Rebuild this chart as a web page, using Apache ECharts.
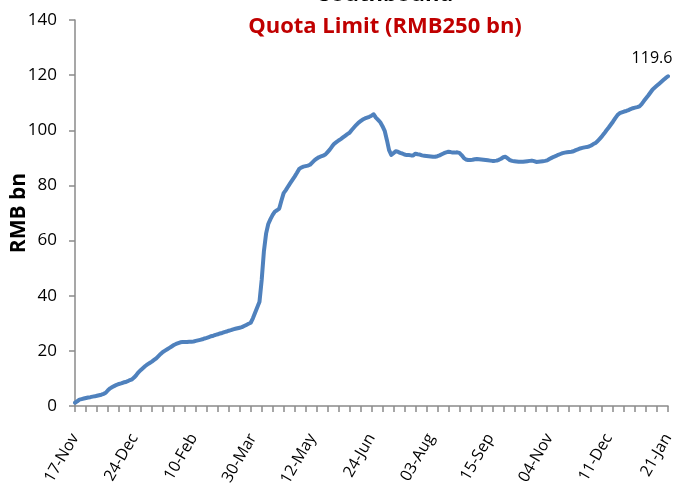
<!DOCTYPE html>
<html>
<head>
<meta charset="utf-8">
<script src="https://cdn.jsdelivr.net/npm/echarts@6/dist/echarts.min.js"></script>
<style>
html,body{margin:0;padding:0;background:#fff;}
#c{width:685px;height:486px;}
</style>
</head>
<body>
<div id="c"></div>
<script>
// Tick labels shown every 27 trading days
const tickLabels = ['17-Nov','24-Dec','10-Feb','30-Mar','12-May','24-Jun','03-Aug','15-Sep','04-Nov','11-Dec','21-Jan'];
const labelStep = 27;
const tickStep = 5;
// Cumulative southbound usage, RMB bn
const values = [
1.2,1.7,2.3,2.5,2.7,2.9,3.1,3.2,3.4,3.5,
3.7,3.9,4.1,4.4,4.8,5.7,6.4,6.9,7.3,7.7,
8.0,8.2,8.5,8.7,9.0,9.4,9.7,10.4,11.3,12.3,
13.1,13.8,14.5,15.1,15.6,16.1,16.7,17.3,18.1,18.9,
19.6,20.1,20.6,21.1,21.6,22.1,22.5,22.8,23.1,23.2,
23.2,23.2,23.3,23.3,23.4,23.6,23.8,24.0,24.2,24.5,
24.7,25.0,25.3,25.5,25.8,26.0,26.3,26.5,26.8,27.0,
27.3,27.5,27.8,28.0,28.2,28.4,28.6,29.0,29.4,29.8,
30.2,31.8,33.8,35.8,37.8,45.7,56.0,62.5,66.0,67.8,
69.3,70.5,71.0,71.6,74.5,77.2,78.3,79.6,80.8,82.0,
83.2,84.5,85.9,86.5,86.8,87.0,87.2,87.5,88.3,89.1,
89.7,90.2,90.5,90.8,91.2,92.1,93.0,94.1,95.1,95.7,
96.3,96.8,97.4,98.0,98.6,99.1,100.1,101.0,101.9,102.7,
103.3,103.9,104.3,104.6,104.9,105.3,105.8,104.6,103.8,102.9,
101.5,99.8,96.5,92.8,91.1,91.7,92.4,92.2,91.8,91.6,
91.2,91.0,91.0,90.9,90.9,91.5,91.3,91.2,90.9,90.8,
90.7,90.6,90.5,90.4,90.4,90.6,90.9,91.3,91.7,92.0,
92.2,92.1,91.9,91.9,92.0,91.8,91.0,90.0,89.4,89.2,
89.2,89.3,89.5,89.6,89.5,89.4,89.3,89.2,89.1,89.0,
88.9,88.9,89.0,89.3,89.7,90.2,90.4,89.8,89.2,88.9,
88.8,88.7,88.6,88.6,88.6,88.7,88.8,88.9,89.0,88.8,
88.5,88.6,88.7,88.8,88.9,89.1,89.6,90.0,90.4,90.7,
91.1,91.4,91.7,91.9,92.0,92.1,92.2,92.4,92.8,93.1,
93.4,93.6,93.8,93.9,94.1,94.5,95.0,95.4,96.1,97.0,
97.9,98.9,100.0,101.0,102.1,103.2,104.4,105.5,106.2,106.5,
106.8,107.0,107.3,107.7,108.0,108.2,108.4,108.7,109.5,110.6,
111.6,112.6,113.7,114.8,115.5,116.2,116.9,117.6,118.3,119.0,
119.6
];
const categories = values.map((v, i) => String(i));
const lastLabel = '119.6';

const axisGray = '#8a8a8a';
const font = '"Open Sans", "Liberation Sans", sans-serif';

const seriesData = values.map((v, i) => i === values.length - 1
  ? {value: v, symbol: 'circle', symbolSize: 1,
     label: {show: true, formatter: lastLabel, position: 'top', offset: [-16, -4],
      color: '#000', fontSize: 16, fontFamily: font}}
  : {value: v, symbol: 'none'});

const chart = echarts.init(document.getElementById('c'), null, {renderer: 'canvas'});
chart.setOption({
  animation: false,
  backgroundColor: '#fff',
  grid: {left: 75, right: 17, top: 20, bottom: 80, containLabel: false, outerBoundsMode: 'none'},
  graphic: [
    {type: 'text', style: {text: 'Southbound', x: 386, y: -5, align: 'center', verticalAlign: 'middle',
      font: 'bold 22px ' + font, fill: '#000'}, z: 10},
    {type: 'text', style: {text: 'Quota Limit (RMB250 bn)', x: 385, y: 27, align: 'center', verticalAlign: 'middle',
      font: 'bold 22px ' + font, fill: '#C00000'}, z: 10}
  ],
  xAxis: {
    type: 'category',
    data: categories,
    boundaryGap: false,
    axisLine: {show: true, lineStyle: {color: axisGray, width: 1.5}},
    axisTick: {show: true, inside: false, alignWithLabel: false, interval: tickStep - 1, length: 6,
      lineStyle: {color: axisGray, width: 1.5}},
    axisLabel: {
      interval: labelStep - 1,
      formatter: (v) => tickLabels[Math.round(Number(v) / labelStep)],
      rotate: 60, margin: 29, color: '#000', fontSize: 16, fontFamily: font
    },
    splitLine: {show: false}
  },
  yAxis: {
    type: 'value',
    min: 0, max: 140, interval: 20,
    name: 'RMB bn',
    nameLocation: 'middle',
    nameGap: 45,
    nameMoveOverlap: false,
    nameTextStyle: {fontWeight: 'bold', fontSize: 21, color: '#000', fontFamily: font},
    axisLine: {show: true, lineStyle: {color: axisGray, width: 1.5}},
    axisTick: {show: true, inside: false, length: 6, lineStyle: {color: axisGray, width: 1.5}},
    axisLabel: {margin: 18, color: '#000', fontSize: 17, fontFamily: font},
    splitLine: {show: false}
  },
  series: [{
    type: 'line',
    data: seriesData,
    showSymbol: true,
    showAllSymbol: true,
    lineStyle: {color: '#4F81BD', width: 4, cap: 'round', join: 'round'},
    itemStyle: {color: '#4F81BD'}
  }]
});
</script>
</body>
</html>
